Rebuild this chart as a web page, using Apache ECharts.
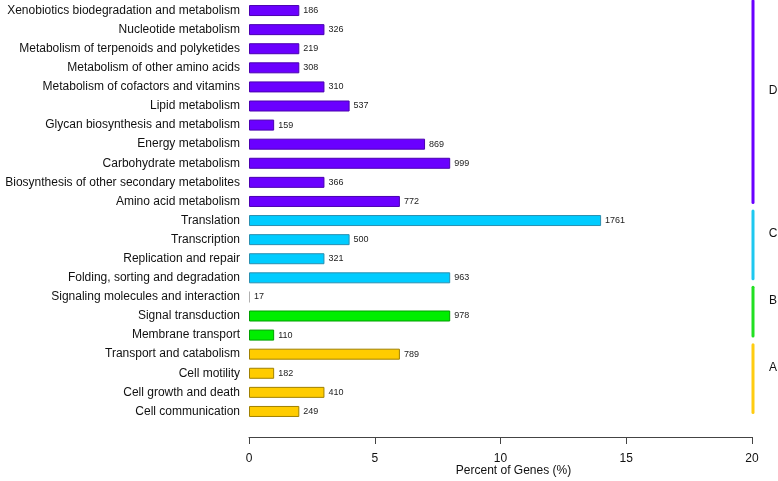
<!DOCTYPE html>
<html>
<head>
<meta charset="utf-8">
<script src="https://cdn.jsdelivr.net/npm/echarts@6/dist/echarts.min.js"></script>
<style>html,body{margin:0;padding:0;background:#fff}#c{width:778px;height:481px}</style>
</head>
<body>
<div id="c"></div>
<script>
// top-to-bottom order
var categories = [
  "Xenobiotics biodegradation and metabolism",
  "Nucleotide metabolism",
  "Metabolism of terpenoids and polyketides",
  "Metabolism of other amino acids",
  "Metabolism of cofactors and vitamins",
  "Lipid metabolism",
  "Glycan biosynthesis and metabolism",
  "Energy metabolism",
  "Carbohydrate metabolism",
  "Biosynthesis of other secondary metabolites",
  "Amino acid metabolism",
  "Translation",
  "Transcription",
  "Replication and repair",
  "Folding, sorting and degradation",
  "Signaling molecules and interaction",
  "Signal transduction",
  "Membrane transport",
  "Transport and catabolism",
  "Cell motility",
  "Cell growth and death",
  "Cell communication"
];
var percents = [2, 3, 2, 2, 3, 4, 1, 7, 8, 3, 6, 14, 4, 3, 8, 0.04, 8, 1, 6, 1, 3, 2];
var counts = [186, 326, 219, 308, 310, 537, 159, 869, 999, 366, 772, 1761, 500, 321, 963, 17, 978, 110, 789, 182, 410, 249];
var groups = ["D","D","D","D","D","D","D","D","D","D","D","C","C","C","C","B","B","B","A","A","A","A"];
var groupNames = ["D", "C", "B", "A"];
var groupStart = [0, 11, 15, 18];
var groupEnd = [10, 14, 17, 21];
var xTicks = [0, 5, 10, 15, 20];

var fill = {D: "#6a00ff", C: "#00ccff", B: "#00ee00", A: "#ffcc00"};
var border = {D: "#4a00b0", C: "#2a8fb0", B: "#00a000", A: "#a08000"};
var lineColor = {D: "#6a00ff", C: "#1ec8f0", B: "#22e022", A: "#ffcc11"};

var barData = percents.map(function (v, i) {
  var g = groups[i];
  var isTiny = counts[i] < 50;
  return {
    value: v,
    itemStyle: {
      color: isTiny ? "#b0b0b0" : fill[g],
      borderColor: isTiny ? "#b0b0b0" : border[g],
      borderWidth: isTiny ? 0 : 1
    }
  };
});

var groupData = groupNames.map(function (g, k) {
  return [groupStart[k], groupEnd[k], k];
});

var chart = echarts.init(document.getElementById("c"), null, {renderer: "canvas"});
chart.setOption({
  animation: false,
  backgroundColor: "#ffffff",
  textStyle: {fontFamily: "Liberation Sans, Arial, sans-serif"},
  grid: {left: 249, right: 26, top: 1, height: 420, containLabel: false, outerBoundsMode: "none"},
  xAxis: {
    type: "value",
    min: 0, max: 20, interval: 5,
    offset: 16,
    name: "Percent of Genes (%)",
    nameLocation: "middle",
    nameGap: 28,
    nameMoveOverlap: false,
    nameTextStyle: {fontSize: 12, color: "#111", padding: [0, 0, 0, 26],
      fontFamily: "Liberation Sans, Arial, sans-serif"},
    axisLine: {show: true, lineStyle: {color: "#444", width: 1}},
    axisTick: {show: true, length: 7, lineStyle: {color: "#444"}},
    axisLabel: {fontSize: 12, color: "#111", margin: 16,
      formatter: function (v) { return xTicks.indexOf(v) >= 0 ? String(v) : ""; }},
    splitLine: {show: false}
  },
  yAxis: {
    type: "category",
    inverse: true,
    data: categories,
    axisLine: {show: false},
    axisTick: {show: false},
    axisLabel: {fontSize: 12, color: "#111", margin: 9}
  },
  series: [
    {
      type: "bar",
      data: barData,
      barWidth: 11,
      label: {
        show: true,
        position: "right",
        distance: 4,
        fontSize: 9,
        color: "#222",
        formatter: function (p) { return String(counts[p.dataIndex]); }
      }
    },
    {
      type: "custom",
      clip: false,
      data: groupData,
      encode: {y: 0},
      renderItem: function (params, api) {
        var s = api.value(0), e = api.value(1), k = api.value(2);
        var g = groupNames[k];
        var band = api.size([0, 1])[1];
        var p1 = api.coord([20, s]);
        var p2 = api.coord([20, e]);
        var x = p1[0] + 1;
        var y1 = p1[1] - band * 0.5;
        var y2 = p2[1] + band * 0.05;
        return {
          type: "group",
          children: [
            {type: "line", shape: {x1: x, y1: y1, x2: x, y2: y2},
             style: {stroke: lineColor[g], lineWidth: 3, lineCap: "round"}},
            {type: "text", style: {text: g, x: x + 20, y: (y1 + y2) / 2 - 11,
              textAlign: "center", textVerticalAlign: "middle",
              font: "12px Liberation Sans, Arial, sans-serif", fill: "#111"}}
          ]
        };
      }
    }
  ]
});
</script>
</body>
</html>
